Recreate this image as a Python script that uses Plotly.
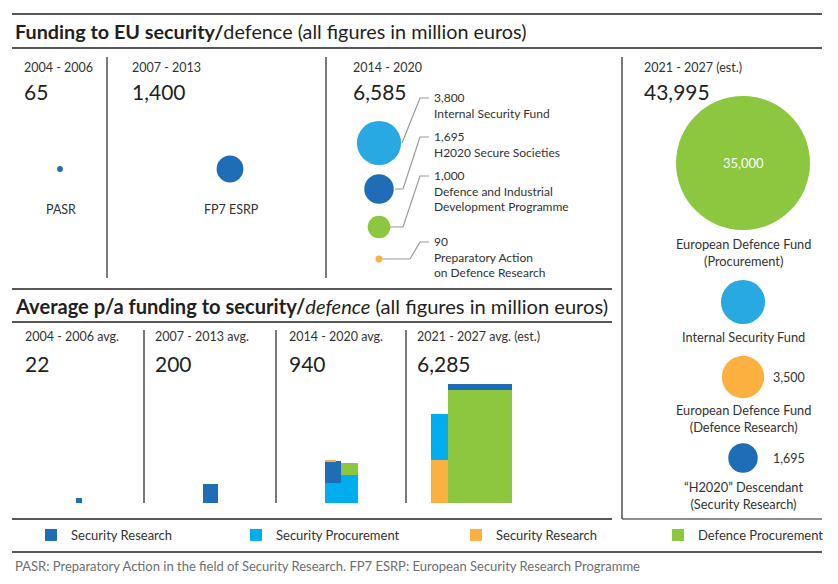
import plotly.graph_objects as go

W, H = 838, 584

# ---------------- DATA ----------------
period_labels = ["2004 - 2006", "2007 - 2013", "2014 - 2020", "2021 - 2027 (est.)"]
period_totals = [65, 1400, 6585, 43995]
period_years = [3, 7, 7, 7]

names_2004 = ["PASR"]
values_2004 = [65]
cats_2004 = ["sec_res"]

names_2007 = ["FP7 ESRP"]
values_2007 = [1400]
cats_2007 = ["sec_res"]

names_2014 = ["Internal Security Fund", "H2020 Secure Societies",
              "Defence and Industrial<br>Development Programme",
              "Preparatory Action<br>on Defence Research"]
values_2014 = [3800, 1695, 1000, 90]
cats_2014 = ["sec_proc", "sec_res", "def_proc", "def_res"]

names_2021 = ["European Defence Fund<br>(Procurement)", "Internal Security Fund",
              "European Defence Fund<br>(Defence Research)",
              "\u201cH2020\u201d Descendant<br>(Security Research)"]
values_2021 = [35000, 3800, 3500, 1695]
cats_2021 = ["def_proc", "sec_proc", "def_res", "sec_res"]

avg_labels = ["2004 - 2006 avg.", "2007 - 2013 avg.", "2014 - 2020 avg.", "2021 - 2027 avg. (est.)"]
avg_values = [22, 200, 940, 6285]

legend_keys = ["sec_res", "sec_proc", "def_res", "def_proc"]
legend_names = ["Security Research", "Security Procurement", "Security Research", "Defence Procurement"]

footnote = ("PASR: Preparatory Action in the field of Security Research. "
            "FP7 ESRP: European Security Research Programme")

# ---------------- STYLE / LAYOUT ----------------
FONT = "Lato, Calibri, 'Open Sans', sans-serif"
DARK = "#231F20"
TXT = "#333333"
BAR_COLORS = {"sec_res": "#1F6DB6", "sec_proc": "#00AEEF", "def_res": "#FBB040", "def_proc": "#8DC63F"}
CIRC_COLORS = {"sec_res": "#1F6DB6", "sec_proc": "#29A9E1", "def_res": "#FBB040", "def_proc": "#8DC63F"}
SIZEREF = 3.9  # area-proportional bubbles

pos_2004 = [(60, 169)]
pos_2007 = [(230, 169)]
pos_2014 = [(379, 143), (379, 189), (379, 227), (379, 259)]
pos_2021 = [(743, 163), (743, 302), (743, 377), (743, 458)]
legend_x = [31, 236, 456, 658]

fig = go.Figure()

# ---------------- circles ----------------
def circles(vals, cats, pos, name):
    fig.add_trace(go.Scatter(
        x=[p[0] for p in pos], y=[p[1] for p in pos], mode="markers",
        marker=dict(size=list(vals), sizemode="area", sizeref=SIZEREF, sizemin=0,
                    color=[CIRC_COLORS[c] for c in cats], line=dict(width=0), opacity=1),
        showlegend=False, hoverinfo="skip", name=name))

circles(values_2004, cats_2004, pos_2004, "2004")
circles(values_2007, cats_2007, pos_2007, "2007")
circles(values_2014, cats_2014, pos_2014, "2014")
circles(values_2021, cats_2021, pos_2021, "2021")

# ---------------- area-proportional stacked bars (per annum) ----------------
K = 1.45     # px^2 per million euro p/a
FLOOR = 503
bars = {k: dict(x=[], w=[], base=[], h=[]) for k in legend_keys}

def stack(items, x0, w):
    top = FLOOR
    for it in items:
        cat, val = it[0], it[1]
        ww = it[2] if len(it) > 2 else w
        h = val * K / ww
        b = bars[cat]
        b["x"].append(x0 + ww / 2); b["w"].append(ww); b["base"].append(top); b["h"].append(-h)
        top -= h

stack([(cats_2004[0], values_2004[0] / period_years[0])], 76, 6)
stack([(cats_2007[0], values_2007[0] / period_years[1])], 203, 15)
isf14 = values_2014[0] / period_years[2]
stack([(cats_2014[0], isf14 * 0.4), (cats_2014[1], values_2014[1] / period_years[2]),
       (cats_2014[3], values_2014[3] / period_years[2], 11)], 325, 16)
stack([(cats_2014[0], isf14 * 0.6), (cats_2014[2], values_2014[2] / period_years[2])], 341, 17)
stack([(cats_2021[2], values_2021[2] / period_years[3]), (cats_2021[1], values_2021[1] / period_years[3])], 431, 17)
stack([(cats_2021[0], values_2021[0] / period_years[3]), (cats_2021[3], values_2021[3] / period_years[3])], 448, 64)

legend_ids = ["legend", "legend2", "legend3", "legend4"]
for key, nm, lid in zip(legend_keys, legend_names, legend_ids):
    b = bars[key]
    fig.add_trace(go.Bar(x=b["x"], y=b["h"], base=b["base"], width=b["w"], name=nm,
                         marker=dict(color=BAR_COLORS[key], line=dict(width=0)),
                         hoverinfo="skip", showlegend=True, legend=lid))

# ---------------- lines ----------------
shapes = []
def line(x0, y0, x1, y1, w=1.5, c=DARK):
    shapes.append(dict(type="line", xref="x", yref="y", x0=x0, y0=y0, x1=x1, y1=y1,
                       line=dict(color=c, width=w), layer="below"))

line(12, 14, 822, 14); line(12, 48, 822, 48)
line(107, 57, 107, 278, 1.2); line(326, 57, 326, 278, 1.2); line(622, 57, 622, 519, 1.2)
line(12, 289, 612, 289); line(12, 322, 612, 322)
line(144, 330, 144, 503, 1.2); line(276, 330, 276, 503, 1.2); line(406, 330, 406, 503, 1.2)
line(12, 519, 612, 519); line(622, 519, 822, 519, 1.2)
line(12, 552, 822, 552)

leaders = [[(402, 143), (420, 98), (429, 98)],
           [(395, 189), (403, 189), (420, 137), (429, 137)],
           [(389, 227), (403, 227), (420, 176), (429, 176)],
           [(382, 259), (410, 259), (420, 242), (429, 242)]]
for pts in leaders:
    path = "M " + " L ".join(f"{x},{y}" for x, y in pts)
    shapes.append(dict(type="path", xref="x", yref="y", path=path,
                       line=dict(color="#9A9A9A", width=1.2), layer="below"))

# ---------------- texts ----------------
ann = []
def txt(x, y, s, size=12.5, color=TXT, xa="left", ya="middle", align="left"):
    ann.append(dict(x=x, y=y, xref="x", yref="y", text=s, showarrow=False, xanchor=xa,
                    yanchor=ya, align=align, font=dict(family=FONT, size=size, color=color)))

txt(13, 31, "<b>Funding to EU security/</b>defence (all figures in million euros)", 19.8, DARK)
txt(13, 306, "<b>Average p/a funding to security/</b><i>defence</i> (all figures in million euros)", 20.1, DARK)

top_x = [22, 130, 351, 642]
for x, lab, tot in zip(top_x, period_labels, period_totals):
    txt(x, 67, lab, 12.5)
    txt(x, 91, f"{tot:,}", 21, DARK)

txt(pos_2004[0][0] + 1, 209, names_2004[0], 12.5, align="center", xa="center")
txt(pos_2007[0][0] + 1, 209, names_2007[0], 12.5, align="center", xa="center")

lab14_y = [105.5, 144.5, 191, 257]
for v, nm, y in zip(values_2014, names_2014, lab14_y):
    txt(432, y, f"{v:,}<br>{nm}", 12)

txt(743, 163, f"{values_2021[0]:,}", 13, "white", xa="center")
lab21_y = [252, 337, 418, 495]
for nm, y in zip(names_2021, lab21_y):
    txt(743, y, nm, 12.8, xa="center", align="center")
for i in (2, 3):
    txt(789, pos_2021[i][1], f"{values_2021[i]:,}", 12.5, xa="center")

bot_x = [23, 153, 287, 415]
for x, lab, v in zip(bot_x, avg_labels, avg_values):
    txt(x, 336, lab, 12.5)
    txt(x, 363, f"{v:,}", 21, DARK)

txt(13, 566, footnote, 13, "#6D6E71")

legends = {}
for lid, lx in zip(legend_ids, legend_x):
    legends[lid] = dict(orientation="h", x=lx / W, xanchor="left", y=1 - 535 / H, yanchor="middle",
                        font=dict(family=FONT, size=13, color=TXT), bgcolor="rgba(0,0,0,0)",
                        borderwidth=0)

fig.update_layout(
    width=W, height=H, margin=dict(l=0, r=0, t=0, b=0),
    paper_bgcolor="white", plot_bgcolor="white",
    xaxis=dict(range=[0, W], visible=False, domain=[0, 1], fixedrange=True),
    yaxis=dict(range=[H, 0], visible=False, domain=[0, 1], fixedrange=True),
    barmode="overlay", bargap=0,
    shapes=shapes, annotations=ann,
    font=dict(family=FONT),
    **legends,
)

fig.write_html("out.html", config={"displayModeBar": False},
               post_script="document.body.style.margin='0';document.body.style.padding='0';")
